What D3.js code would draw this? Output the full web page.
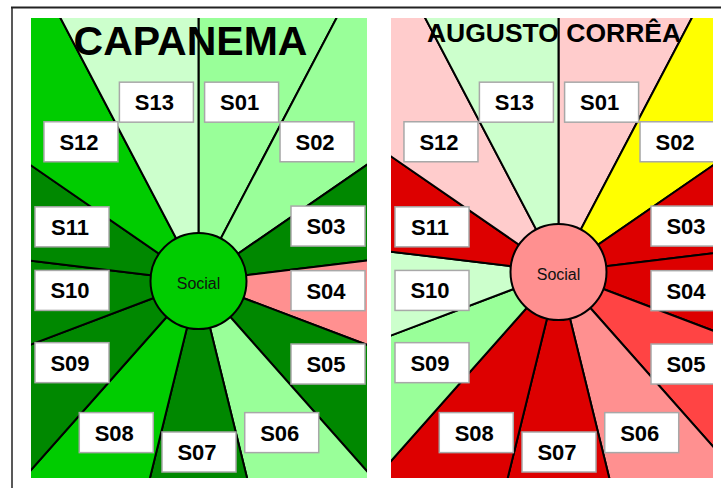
<!DOCTYPE html>
<html>
<head>
<meta charset="utf-8">
<script src="https://cdn.jsdelivr.net/npm/d3@7/dist/d3.min.js"></script>
<style>
  html, body { margin: 0; padding: 0; background: #ffffff; }
  svg { display: block; }
</style>
</head>
<body>
<svg id="chart" width="721" height="488"></svg>
<script>
// Sector codes, clockwise from the top
const sectors = ["S01", "S02", "S03", "S04", "S05", "S06", "S07", "S08", "S09", "S10", "S11", "S12", "S13"];

// Nine-step rating scale, from worst (1) to best (9)
const levels = [1, 2, 3, 4, 5, 6, 7, 8, 9];
const levelColors = ["#dd0000", "#ff4444", "#ff9090", "#ffcccc", "#ffff00", "#ccffcc", "#99ff99", "#00cc00", "#008800"];

// Municipalities and their rating per sector
const municipalities = ["CAPANEMA", "AUGUSTO CORRÊA"];
const capanemaLevels = [7, 7, 9, 3, 9, 7, 9, 8, 9, 9, 9, 8, 6];
const augustoCorreaLevels = [4, 5, 1, 1, 2, 3, 1, 1, 7, 6, 1, 4, 6];

// Overall rating of the dimension shown in the hub
const dimension = "Social";
const dimensionLevels = [8, 3];

const color = d3.scaleOrdinal().domain(levels).range(levelColors);

const svg = d3.select("#chart");

// Outer frame (top and left edges)
svg.append("line").attr("x1", 11).attr("x2", 721).attr("y1", 7.5).attr("y2", 7.5)
  .attr("stroke", "#222").attr("stroke-width", 2);
svg.append("line").attr("x1", 12).attr("x2", 12).attr("y1", 7).attr("y2", 488)
  .attr("stroke", "#222").attr("stroke-width", 1.5);

// Panel geometry
const panels = [
  { name: municipalities[0], values: capanemaLevels, hub: dimensionLevels[0],
    x0: 31, y0: 18, w: 336, h: 460, cx: 198.5, cy: 281,
    titleX: 190.5, titleY: 55, titleSize: 41 },
  { name: municipalities[1], values: augustoCorreaLevels, hub: dimensionLevels[1],
    x0: 391, y0: 18, w: 322, h: 460, cx: 558.5, cy: 272,
    titleX: 554, titleY: 42, titleSize: 26.5 }
];

// Label layout: boxes sit on each sector's middle ray, pulled inward to stay in the frame
const layoutW = 336, layoutH = 460;
const labelOrigin = { x: 168, y: 257 };
const labelRadius = 178;
const boxW = 74, boxH = 40;
const hubRadius = 48;

const pie = d3.pie().sort(null).value(() => 1);
const arc = d3.arc().innerRadius(0).outerRadius(800);

panels.forEach((p, i) => {
  const clipId = "panel-clip-" + i;
  svg.append("clipPath").attr("id", clipId)
    .append("rect").attr("x", p.x0).attr("y", p.y0).attr("width", p.w).attr("height", p.h);

  const g = svg.append("g").attr("clip-path", `url(#${clipId})`);

  const data = sectors.map((s, k) => ({ sector: s, level: p.values[k] }));
  const arcs = pie(data);

  // Sector wedges
  g.append("g").attr("transform", `translate(${p.cx},${p.cy})`)
    .selectAll("path").data(arcs).join("path")
    .attr("d", arc)
    .attr("fill", d => color(d.data.level))
    .attr("stroke", "#000")
    .attr("stroke-width", 2)
    .attr("stroke-linejoin", "round");

  // Hub
  g.append("circle").attr("cx", p.cx).attr("cy", p.cy).attr("r", hubRadius)
    .attr("fill", color(p.hub)).attr("stroke", "#000").attr("stroke-width", 2);
  g.append("text").attr("x", p.cx).attr("y", p.cy + 7.5)
    .attr("text-anchor", "middle")
    .attr("font-family", "'Liberation Sans', Arial, sans-serif")
    .attr("font-size", 16).attr("fill", "#111")
    .text(dimension);

  // Sector labels
  const labels = g.append("g");
  arcs.forEach(a => {
    const mid = (a.startAngle + a.endAngle) / 2;
    const dx = Math.sin(mid), dy = -Math.cos(mid);
    let r = labelRadius;
    const xMin = boxW / 2 + 4, xMax = layoutW - boxW / 2 - 2;
    const yMin = boxH / 2 + 3, yMax = layoutH - boxH / 2 - 6;
    const fit = (v, d, lo, hi) => {
      if (d > 0 && v + r * d > hi) r = (hi - v) / d;
      if (d < 0 && v + r * d < lo) r = (lo - v) / d;
    };
    fit(labelOrigin.x, dx, xMin, xMax);
    fit(labelOrigin.y, dy, yMin, yMax);
    const lx = p.x0 + labelOrigin.x + r * dx;
    const ly = p.y0 + labelOrigin.y + r * dy;
    labels.append("rect")
      .attr("x", lx - boxW / 2).attr("y", ly - boxH / 2)
      .attr("width", boxW).attr("height", boxH)
      .attr("fill", "#fff").attr("stroke", "#a8a8a8").attr("stroke-width", 1.5);
    labels.append("text")
      .attr("x", lx - 2).attr("y", ly + 8)
      .attr("text-anchor", "middle")
      .attr("font-family", "'Liberation Sans', Arial, sans-serif")
      .attr("font-weight", "bold").attr("font-size", 22).attr("fill", "#000")
      .text(a.data.sector);
  });

  // Title
  g.append("text").attr("x", p.titleX).attr("y", p.titleY)
    .attr("text-anchor", "middle")
    .attr("font-family", "'Liberation Sans', Arial, sans-serif")
    .attr("font-weight", "bold").attr("font-size", p.titleSize).attr("fill", "#000")
    .text(p.name);
});
</script>
</body>
</html>
